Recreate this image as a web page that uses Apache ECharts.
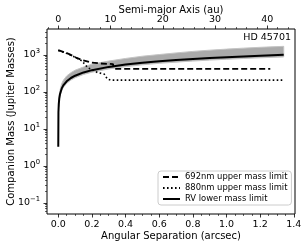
<!DOCTYPE html>
<html>
<head>
<meta charset="utf-8">
<script src="https://cdn.jsdelivr.net/npm/echarts@6/dist/echarts.min.js"></script>
<style>html,body{margin:0;padding:0;background:#fff}#c{width:305px;height:247px}</style>
</head>
<body>
<div id="c"></div>
<script>
// ---- data ----
const sepRV  = [0, 0.001, 0.003, 0.006, 0.01, 0.02, 0.03, 0.05, 0.075, 0.1, 0.15, 0.2, 0.3, 0.4, 0.5, 0.6, 0.7, 0.8, 0.9, 1.0, 1.1, 1.2, 1.34];
const massRV = [3.3, 28, 47, 67, 86, 122, 150, 193, 237, 273, 335, 386, 473, 546, 611, 670, 723, 773, 820, 864, 906, 946, 1000];

const sepBand  = [0.003, 0.006, 0.01, 0.02, 0.03, 0.05, 0.075, 0.1, 0.15, 0.2, 0.3, 0.4, 0.5, 0.6, 0.7, 0.8, 0.9, 1.0, 1.1, 1.2, 1.34];
const bandLow  = [40, 58, 75, 107, 132, 170, 208, 240, 295, 340, 416, 480, 538, 590, 636, 680, 722, 760, 797, 832, 880];
const bandHigh = [55, 80, 110, 165, 205, 270, 330, 385, 470, 560, 680, 800, 920, 1020, 1130, 1240, 1340, 1430, 1520, 1600, 1700];

const sep692  = [0.0, 0.025, 0.065, 0.105, 0.144, 0.194, 0.253, 0.325, 0.332, 0.6, 1.0, 1.26];
const mass692 = [1340, 1227, 1045, 846, 719, 621, 584, 563, 420, 420, 420, 420];

const sep880  = [0.0, 0.04, 0.075, 0.141, 0.174, 0.233, 0.273, 0.292, 0.313, 0.7, 1.336];
const mass880 = [1320, 1150, 982, 689, 455, 334, 302, 222, 208, 208, 208];

const xTicks = [0.0, 0.2, 0.4, 0.6, 0.8, 1.0, 1.2, 1.4];
const xMinorTicks = [0.05,0.1,0.15,0.25,0.3,0.35,0.45,0.5,0.55,0.65,0.7,0.75,0.85,0.9,0.95,1.05,1.1,1.15,1.25,1.3,1.35];
const auTicks = [0, 10, 20, 30, 40];
const auMinorTicks = [-2,2,4,6,8,12,14,16,18,22,24,26,28,32,34,36,38,42,44];
const yTicks = [0.1, 1, 10, 100, 1000];
const yMinorTicks = [0.06,0.07,0.08,0.09,0.2,0.3,0.4,0.5,0.6,0.7,0.8,0.9,2,3,4,5,6,7,8,9,20,30,40,50,60,70,80,90,200,300,400,500,600,700,800,900,2000,3000,4000];

const legendNames = ['692nm upper mass limit', '880nm upper mass limit', 'RV lower mass limit'];
const distPc = 32.2;
const xMin = -0.067, xMax = 1.407, yMin = 0.05, yMax = 5000;

const zip = (a, b) => a.map((v, i) => [v, b[i]]);
const FONT = 'DejaVu Sans';
const tickStyle = {color: '#000', width: 0.8};
const minorStyle = {color: '#000', width: 0.6};
const noLine = {show: false, onZero: false};
const nameStyle = {fontFamily: FONT, fontSize: 10, color: '#000'};

function supFmt(v) {
  const e = Math.round(Math.log10(v));
  return '{b|10}{s|' + (e < 0 ? '\u2212' + (-e) : e) + '}';
}

const chart = echarts.init(document.getElementById('c'), null, {renderer: 'canvas'});
chart.setOption({
  animation: false,
  textStyle: {fontFamily: FONT},
  title: {text: 'HD 45701', right: 14, top: 33, padding: 0,
          textStyle: {fontFamily: FONT, fontSize: 9.5, fontWeight: 'normal', color: '#000'}},
  grid: {left: 47, right: 10, top: 29, bottom: 33, containLabel: false, outerBoundsMode: 'none',
         show: true, borderColor: '#000', borderWidth: 1, backgroundColor: 'transparent'},
  legend: {
    data: legendNames, orient: 'vertical', left: 158, top: 171,
    itemWidth: 17, itemHeight: 9, itemGap: 3,
    itemStyle: {opacity: 0},
    padding: [2, 4, 2, 4], backgroundColor: '#fff', borderColor: '#cccccc', borderWidth: 1, borderRadius: 3,
    textStyle: {fontFamily: FONT, fontSize: 8.4, color: '#000'}
  },
  xAxis: [
    {type: 'value', min: xMin, max: xMax, position: 'bottom',
     name: 'Angular Separation (arcsec)', nameLocation: 'middle', nameGap: 17, nameMoveOverlap: false,
     nameTextStyle: nameStyle,
     axisLine: noLine, splitLine: {show: false},
     axisTick: {customValues: xTicks, length: 3.5, lineStyle: tickStyle},
     axisLabel: {customValues: xTicks, formatter: v => v.toFixed(1), fontSize: 9.5, color: '#000', margin: 5.5}},
    {type: 'value', min: xMin * distPc, max: xMax * distPc, position: 'top',
     name: 'Semi-major Axis (au)', nameLocation: 'middle', nameGap: 14, nameMoveOverlap: false,
     nameTextStyle: nameStyle,
     axisLine: noLine, splitLine: {show: false},
     axisTick: {customValues: auTicks, length: 3.5, lineStyle: tickStyle},
     axisLabel: {customValues: auTicks, fontSize: 9.5, color: '#000', margin: 4}},
    {type: 'value', min: xMin, max: xMax, position: 'bottom',
     axisLine: noLine, splitLine: {show: false},
     axisTick: {customValues: xMinorTicks, length: 2, lineStyle: minorStyle},
     axisLabel: {show: false}},
    {type: 'value', min: xMin * distPc, max: xMax * distPc, position: 'top',
     axisLine: noLine, splitLine: {show: false},
     axisTick: {customValues: auMinorTicks, length: 2, lineStyle: minorStyle},
     axisLabel: {show: false}}
  ],
  yAxis: [
    {type: 'log', logBase: 10, min: yMin, max: yMax, position: 'left',
     name: 'Companion Mass (Jupiter Masses)', nameLocation: 'middle', nameGap: 31, nameMoveOverlap: false,
     nameTextStyle: nameStyle,
     axisLine: noLine, splitLine: {show: false},
     axisTick: {customValues: yTicks, length: 3.5, lineStyle: tickStyle},
     axisLabel: {customValues: yTicks, formatter: supFmt, margin: 7, color: '#000',
       rich: {b: {fontFamily: FONT, fontSize: 9.5, color: '#000'},
              s: {fontFamily: FONT, fontSize: 6.8, color: '#000', padding: [0, 0, 7, 0]}}}},
    {type: 'log', logBase: 10, min: yMin, max: yMax, position: 'left',
     axisLine: noLine, splitLine: {show: false},
     axisTick: {customValues: yMinorTicks, length: 2, lineStyle: minorStyle},
     axisLabel: {show: false}}
  ],
  series: [
    {type: 'custom', name: 'band', xAxisIndex: 0, yAxisIndex: 0, clip: true, silent: true,
     data: [[sepBand[0], bandLow[0]]],
     renderItem: function (params, api) {
       const pts = [];
       for (let i = 0; i < sepBand.length; i++) pts.push(api.coord([sepBand[i], bandHigh[i]]));
       for (let i = sepBand.length - 1; i >= 0; i--) pts.push(api.coord([sepBand[i], bandLow[i]]));
       return {type: 'polygon', shape: {points: pts}, style: {fill: '#aaaaaa', stroke: '#c4c4c4', lineWidth: 1}};
     }, z: 1},
    {type: 'line', name: legendNames[0], data: zip(sep692, mass692), showSymbol: false, symbol: 'none',
     lineStyle: {color: '#000', width: 1.8, type: [6, 3]}, itemStyle: {color: '#000'}, z: 3},
    {type: 'line', name: legendNames[1], data: zip(sep880, mass880), showSymbol: false, symbol: 'none',
     lineStyle: {color: '#000', width: 1.6, type: [1.6, 2.4]}, itemStyle: {color: '#000'}, z: 3},
    {type: 'line', name: legendNames[2], data: zip(sepRV, massRV), showSymbol: false, symbol: 'none',
     lineStyle: {color: '#000', width: 2}, itemStyle: {color: '#000'}, z: 4}
  ]
});
</script>
</body>
</html>
